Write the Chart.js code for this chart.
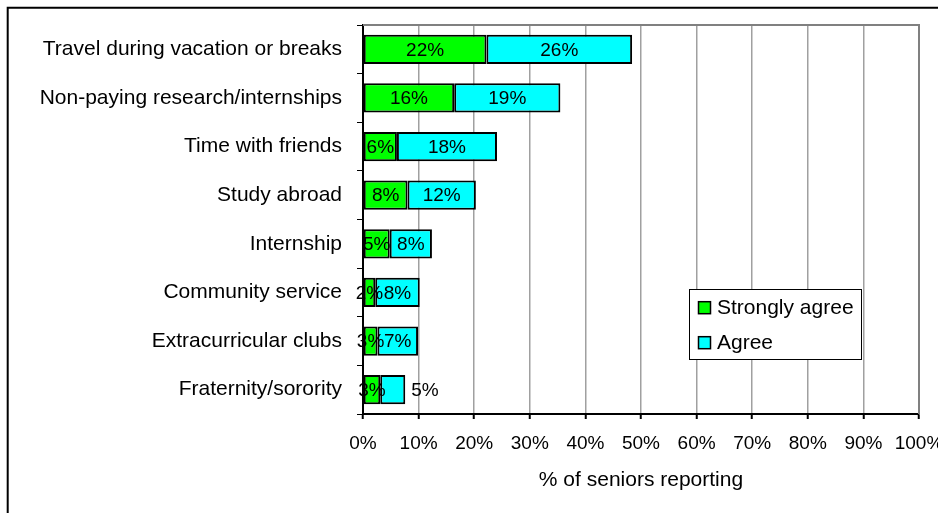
<!DOCTYPE html>
<html>
<head>
<meta charset="utf-8">
<script src="https://cdn.jsdelivr.net/npm/chart.js@4/dist/chart.umd.min.js"></script>
<style>
html,body{margin:0;padding:0;background:#fff;}
#wrap{width:938px;height:513px;position:relative;}
</style>
</head>
<body>
<div id="wrap"><canvas id="c" width="938" height="513"></canvas></div>
<script>
const categories = [
  "Travel during vacation or breaks",
  "Non-paying research/internships",
  "Time with friends",
  "Study abroad",
  "Internship",
  "Community service",
  "Extracurricular clubs",
  "Fraternity/sorority"
];
const stronglyAgree = [22.2, 16.4, 6.1, 8.0, 4.8, 2.2, 2.6, 3.1];
const agree = [26.2, 19.1, 18.0, 12.3, 7.6, 8.0, 7.3, 4.5];
const seriesNames = ["Strongly agree", "Agree"];
const xTicks = [0,10,20,30,40,50,60,70,80,90,100];
const axisTitle = "% of seniors reporting";

const FONT = "'Liberation Sans', Arial, sans-serif";

const framePlugin = {
  id: 'frame',
  afterDraw(chart) {
    const ctx = chart.ctx, a = chart.chartArea;
    ctx.save();
    ctx.strokeStyle = '#000'; ctx.lineWidth = 2;
    ctx.beginPath(); ctx.moveTo(7.7, 600); ctx.lineTo(7.7, 7.7); ctx.lineTo(1000, 7.7); ctx.stroke();
    ctx.strokeStyle = '#808080'; ctx.lineWidth = 2;
    ctx.beginPath(); ctx.moveTo(a.left, a.top); ctx.lineTo(a.right, a.top); ctx.lineTo(a.right, a.bottom); ctx.stroke();
    ctx.restore();
  }
};

const labelPlugin = {
  id: 'barLabels',
  afterDatasetsDraw(chart, args, opts) {
    const ctx = chart.ctx;
    ctx.save();
    ctx.font = '19px ' + FONT;
    ctx.fillStyle = '#000';
    ctx.textBaseline = 'middle';
    chart.data.datasets.forEach((ds, di) => {
      const meta = chart.getDatasetMeta(di);
      meta.data.forEach((el, i) => {
        const txt = Math.round(ds.data[i]) + '%';
        const outside = (opts.outside || []).some(o => o.dataset === di && o.index === i);
        if (outside) {
          ctx.textAlign = 'left';
          ctx.fillText(txt, Math.max(el.x, el.base) + 6, el.y + 1);
        } else {
          ctx.textAlign = 'center';
          ctx.fillText(txt, (el.x + el.base) / 2, el.y + 1);
        }
      });
    });
    ctx.restore();
  }
};

const legendPlugin = {
  id: 'boxLegend',
  afterDraw(chart) {
    const ctx = chart.ctx;
    const x = 689.5, y = 289.5, w = 172, h = 70;
    ctx.save();
    ctx.fillStyle = '#fff'; ctx.fillRect(x, y, w, h);
    ctx.strokeStyle = '#000'; ctx.lineWidth = 1; ctx.strokeRect(x, y, w, h);
    ctx.font = '21px ' + FONT; ctx.textBaseline = 'middle'; ctx.textAlign = 'left';
    chart.data.datasets.forEach((ds, i) => {
      const cy = 307.7 + i * 35;
      ctx.fillStyle = ds.backgroundColor;
      ctx.fillRect(698.5, cy - 6, 12, 12);
      ctx.strokeStyle = '#000'; ctx.lineWidth = 1.5;
      ctx.strokeRect(698.5, cy - 6, 12, 12);
      ctx.fillStyle = '#000';
      ctx.fillText(ds.label, 717, cy + 1);
    });
    ctx.restore();
  }
};

new Chart(document.getElementById('c'), {
  type: 'bar',
  data: {
    labels: categories,
    datasets: [
      { label: seriesNames[0], data: stronglyAgree, backgroundColor: '#00ff00', borderColor: '#000', borderWidth: 2, borderSkipped: false, barPercentage: 0.6, categoryPercentage: 1 },
      { label: seriesNames[1], data: agree, backgroundColor: '#00ffff', borderColor: '#000', borderWidth: 2, borderSkipped: false, barPercentage: 0.6, categoryPercentage: 1 }
    ]
  },
  options: {
    indexAxis: 'y',
    responsive: false,
    animation: false,
    devicePixelRatio: 1,
    layout: { padding: { top: 25, right: 19, left: 0, bottom: 0 }, autoPadding: false },
    plugins: {
      legend: { display: false },
      tooltip: { enabled: false },
      barLabels: { outside: [{ dataset: 1, index: 7 }] }
    },
    scales: {
      x: {
        stacked: true,
        min: 0, max: 100,
        afterBuildTicks(scale) { scale.ticks = xTicks.map(v => ({ value: v })); },
        ticks: { callback: v => v + '%', color: '#000', font: { family: FONT, size: 19 }, padding: 13, maxRotation: 0, autoSkip: false },
        grid: {
          drawOnChartArea: true,
          color: ctx => ctx.index === 0 ? 'rgba(0,0,0,0)' : '#a0a0a0',
          lineWidth: 1.5,
          tickColor: '#000', tickLength: 5, tickWidth: 2
        },
        border: { display: true, color: '#000', width: 2 },
        title: { display: true, text: axisTitle, color: '#000', font: { family: FONT, size: 21 }, padding: { top: 0, bottom: 20 } },
        afterFit(scale) { scale.height = 99; scale.paddingLeft = 0; scale.paddingRight = 0; }
      },
      y: {
        stacked: true,
        ticks: { color: '#000', font: { family: FONT, size: 21 }, padding: 15, autoSkip: false },
        grid: { offset: true, drawOnChartArea: false, drawTicks: true, tickLength: 6, color: '#000', lineWidth: 1 },
        border: { display: true, color: '#000', width: 2 },
        afterFit(scale) { scale.width = 363; scale.paddingTop = 0; scale.paddingBottom = 0; }
      }
    }
  },
  plugins: [framePlugin, labelPlugin, legendPlugin]
});
</script>
</body>
</html>
